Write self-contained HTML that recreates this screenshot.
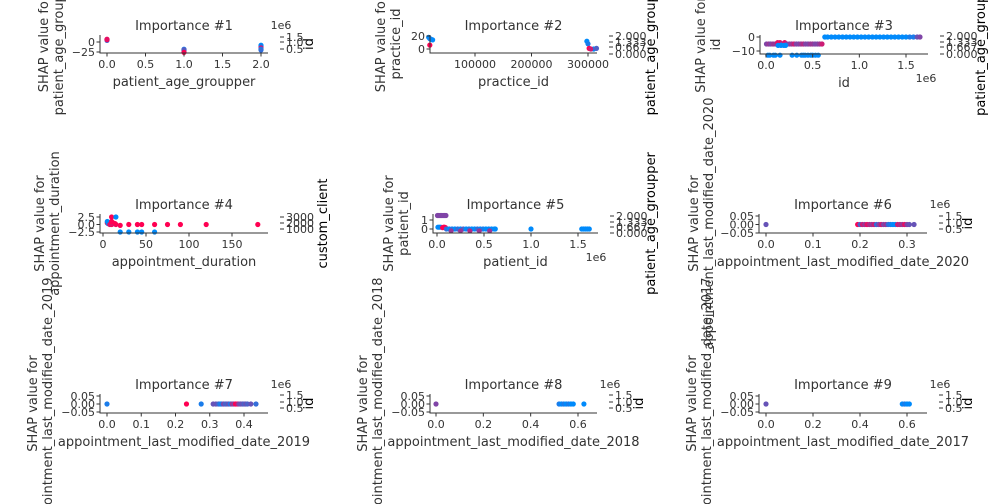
<!DOCTYPE html>
<html><head><meta charset="utf-8"><style>
html,body{margin:0;padding:0;background:#fff;width:1008px;height:504px;overflow:hidden;}
svg{display:block;font-family:"DejaVu Sans","Liberation Sans",sans-serif;}
</style></head><body>
<svg id="fig" width="1008" height="504" viewBox="0 0 1008 504"></svg>
<script>
// ---- data arrays ----
const p1X=[0,0,0,1,1,1,1,2,2,2,2,2];
const p1Y=[4,6,7,-18,-20,-22,-26,-8,-12,-15,-18,-20];
const p1C=[0.2,1,0.9,0.1,0.4,0.3,1,0,0.1,0.9,0,0.2];
const p2X=[18000,20000,22000,25000,20000,298000,300000,302000,310000,315000,305000];
const p2Y=[18,16,15,14,6,12,8,1,0,1,0];
const p2C=[0,0,0.1,0,1,0,0.1,1,0,0.3,0.8];
const p3X=[5000,30000,50000,75000,100000,125000,150000,175000,200000,225000,250000,275000,300000,325000,350000,375000,400000,425000,450000,475000,500000,525000,550000,575000,600000,130000,160000,190000,210000,20000,40000,80000,100000,150000,280000,330000,380000,400000,420000,450000,480000,500000,530000,560000,
 630000,660000,700000,740000,780000,820000,860000,900000,940000,980000,1020000,1060000,1100000,1140000,1180000,1220000,1260000,1300000,1340000,1380000,1420000,1460000,1500000,1540000,1580000,1620000,1650000];
const p3Y=[-5,-5,-5,-5,-5,-4,-4,-5,-4,-5,-5,-5,-5,-5,-5,-5,-5,-5,-5,-5,-5,-5,-5,-5,-5,-6,-6,-6,-6,-13,-13,-13,-13,-13,-13,-13,-13,-13,-13,-13,-13,-13,-13,-13,
 0,0,0,0,0,0,0,0,0,0,0,0,0,0,0,0,0,0,0,0,0,0,0,0,0,0,0];
const p3C=[0.5,0.6,0.5,0.6,0.6,0.9,0.9,0.5,0.9,0.6,0.5,0.6,0.8,0.5,0.5,0.6,0.7,0.5,0.5,0.6,0.6,0.5,0.5,0.6,0.8,0,0,0,0,0,0,0,0,0,0,0,0,0,0,0,0,0,0,0,
 0,0,0,0,0,0,0,0,0,0,0,0,0,0,0,0,0,0,0,0,0,0,0,0.1,0.1,0.4,0.5];
const p4X=[5,6,7,8,9,10,11,12,13,14,15,5,8,10,14,20,20,30,30,40,40,45,45,60,60,75,90,120,180,10,15];
const p4Y=[0.5,0.3,0.6,0.5,0.2,0,0.4,0.5,0.3,0.2,0,1,0,1,0.3,-0.3,-2.5,0,-2.5,0,-2.5,0,-2.5,0,-2.5,0,0,0,0,2.5,2.5];
const p4C=[1,0.1,1,0,1,1,0.9,1,1,0,0.9,0,0.9,1,1,1,0,1,0,1,0,1,0,1,0,1,1,1,1,1,0];
const p5X=[5000,20000,35000,50000,65000,80000,95000,10000,25000,40000,60000,70000,80000,90000,100000,130000,160000,190000,220000,250000,280000,310000,340000,370000,400000,430000,460000,490000,520000,550000,580000,610000,620000,150000,250000,350000,450000,560000,1000000,1540000,1560000,1580000,1600000,1620000];
const p5Y=[1.5,1.5,1.5,1.5,1.5,1.5,1.5,0.2,0.2,0.2,0.15,0.2,0.2,0.15,0,0,0,0,0,0,0,0,0,0,0,0,0,0,0,0,0,0,0,-0.2,-0.2,-0.2,-0.2,-0.2,0,0,0,0,0,0];
const p5C=[0.5,0.5,0.5,0.5,0.5,0.5,0.5,0,0,0,1,1,1,1,0.2,0,0.1,0,0.2,0,0.3,0,0.1,0,0,0.2,0,0.1,0,0,0,0,0,0.6,0.6,0.7,0.6,0.6,0,0,0,0,0,0];
const p6X=[0,0.195,0.2,0.205,0.21,0.215,0.22,0.225,0.23,0.235,0.24,0.245,0.25,0.255,0.26,0.265,0.27,0.275,0.28,0.285,0.29,0.295,0.3,0.305,0.315];
const p6Y=[0,0,0,0,0,0,0,0,0,0,0,0,0,0,0,0,0,0,0,0,0,0,0,0,0];
const p6C=[0.4,1,0.3,0.8,0.6,0.9,0.7,0.6,0.8,0.2,0.5,0.8,0.5,0.6,0.2,0.1,0,0,0.8,0.7,0.6,0.9,0.5,0.4,0.4];
const p7X=[0,0.232,0.275,0.31,0.318,0.325,0.33,0.335,0.34,0.345,0.35,0.355,0.36,0.365,0.37,0.375,0.38,0.385,0.39,0.395,0.4,0.405,0.41,0.42,0.435];
const p7Y=[0,0,0,0,0,0,0,0,0,0,0,0,0,0,0,0,0,0,0,0,0,0,0,0,0];
const p7C=[0.1,1,0.1,0.4,0.4,0.3,0.1,0.1,0.5,0.3,0.3,0.4,0.1,0.6,0.5,1,0.9,0.5,0.4,0.4,0.3,0.4,0.3,0.4,0.2];
const p8X=[0,0.52,0.53,0.54,0.55,0.56,0.57,0.58,0.625];
const p8Y=[0,0,0,0,0,0,0,0,0];
const p8C=[0.5,0.1,0,0.1,0,0.1,0,0,0];
const p9X=[0,0.58,0.59,0.6,0.61];
const p9Y=[0,0,0,0,0];
const p9C=[0.4,0,0.1,0,0];

// ---- layout ----
const panels=[
 {n:1,X:p1X,Y:p1Y,C:p1C,L:100,R:268,T:35,B:53,ya_off:56,xa:[0,107,2,261],ya:[0,42,-25,52],xt:[[0,"0.0"],[0.5,"0.5"],[1,"1.0"],[1.5,"1.5"],[2,"2.0"]],yt:[[0,"0"],[-25,"−25"]],xl:"patient_age_groupper",yl:"patient_age_groupper",cb:[["1.5",37],["1.0",42],["0.5",49]],e6:true,cl:"id",clx:313},
 {n:2,X:p2X,Y:p2Y,C:p2C,L:430,R:597,T:35,B:53,ya_off:49,xa:[100000,475,300000,588],ya:[20,36,0,49],xt:[[100000,"100000"],[200000,"200000"],[300000,"300000"]],yt:[[20,"20"],[0,"0"]],xl:"practice_id",yl:"practice_id",cb:[["2.000",36],["1.333",42],["0.667",47],["0.000",54]],e6:false,cl:"patient_age_groupper",clx:655},
 {n:3,X:p3X,Y:p3Y,C:p3C,L:760,R:928,T:35,B:54,ya_off:59,xa:[0,766,1500000,906],ya:[0,37,-10,51],xt:[[0,"0.0"],[500000,"0.5"],[1000000,"1.0"],[1500000,"1.5"]],yt:[[0,"0"],[-10,"−10"]],xl:"id",yl:"id",cb:[["2.000",36],["1.333",42],["0.667",47],["0.000",54]],e6x:true,e6:false,cl:"patient_age_groupper",clx:985},
 {n:4,X:p4X,Y:p4Y,C:p4C,L:100,R:268,T:214,B:233,ya_off:60,xa:[0,103,150,232],ya:[2.5,217,-2.5,232],xt:[[0,"0"],[50,"50"],[100,"100"],[150,"150"]],yt:[[2.5,"2.5"],[0,"0.0"],[-2.5,"−2.5"]],xl:"appointment_duration",yl:"appointment_duration",cb:[["3000",217],["2000",223],["1000",229]],e6:false,cl:"custom_client",clx:327},
 {n:5,X:p5X,Y:p5Y,C:p5C,L:433,R:598,T:214,B:233,ya_off:44,xa:[0,437,1500000,578],ya:[1,220,0,229],xt:[[0,"0.0"],[500000,"0.5"],[1000000,"1.0"],[1500000,"1.5"]],yt:[[1,"1"],[0,"0"]],xl:"patient_id",yl:"patient_id",cb:[["2.000",216],["1.333",222],["0.667",227],["0.000",233]],e6x:true,e6:false,cl:"patient_age_groupper",clx:655},
 {n:6,X:p6X,Y:p6Y,C:p6C,L:759,R:927,T:214,B:233,ya_off:65,xa:[0,766,0.3,907],ya:[0.05,216,-0.05,233],xt:[[0,"0.0"],[0.1,"0.1"],[0.2,"0.2"],[0.3,"0.3"]],yt:[[0.05,"0.05"],[0,"0.00"],[-0.05,"−0.05"]],xl:"appointment_last_modified_date_2020",yl:"appointment_last_modified_date_2020",cb:[["1.5",216],["1.0",223],["0.5",229]],e6:true,cl:"id",clx:972},
 {n:7,X:p7X,Y:p7Y,C:p7C,L:100,R:268,T:394,B:413,ya_off:67,xa:[0,107,0.4,244],ya:[0.05,396,-0.05,412],xt:[[0,"0.0"],[0.1,"0.1"],[0.2,"0.2"],[0.3,"0.3"],[0.4,"0.4"]],yt:[[0.05,"0.05"],[0,"0.00"],[-0.05,"−0.05"]],xl:"appointment_last_modified_date_2019",yl:"appointment_last_modified_date_2019",cb:[["1.5",395],["1.0",402],["0.5",408]],e6:true,cl:"id",clx:313},
 {n:8,X:p8X,Y:p8Y,C:p8C,L:430,R:597,T:394,B:413,ya_off:67,xa:[0,436,0.6,578],ya:[0.05,396,-0.05,412],xt:[[0,"0.0"],[0.2,"0.2"],[0.4,"0.4"],[0.6,"0.6"]],yt:[[0.05,"0.05"],[0,"0.00"],[-0.05,"−0.05"]],xl:"appointment_last_modified_date_2018",yl:"appointment_last_modified_date_2018",cb:[["1.5",395],["1.0",402],["0.5",408]],e6:true,cl:"id",clx:643},
 {n:9,X:p9X,Y:p9Y,C:p9C,L:759,R:927,T:394,B:413,ya_off:67,xa:[0,766,0.6,907],ya:[0.05,396,-0.05,412],xt:[[0,"0.0"],[0.2,"0.2"],[0.4,"0.4"],[0.6,"0.6"]],yt:[[0.05,"0.05"],[0,"0.00"],[-0.05,"−0.05"]],xl:"appointment_last_modified_date_2017",yl:"appointment_last_modified_date_2017",cb:[["1.5",395],["1.0",402],["0.5",408]],e6:true,cl:"id",clx:972}
];
const NS="http://www.w3.org/2000/svg";
const svg=document.getElementById('fig');
function mk(tag,attrs,parent,txt){const e=document.createElementNS(NS,tag);for(const k in attrs)e.setAttribute(k,attrs[k]);if(txt!==undefined)e.textContent=txt;(parent||svg).appendChild(e);return e;}
function lin(a){return v=>a[1]+(v-a[0])*(a[3]-a[1])/(a[2]-a[0]);}
function col(c){const b=[0,138,251],r=[255,0,82];return 'rgb('+b.map((v,i)=>Math.round(v+(r[i]-v)*c)).join(',')+')';}
const TC="#333";
panels.forEach(p=>{
 const g=mk('g',{});
 
 
 const sx=lin(p.xa),sy=lin(p.ya);
 const cx=(p.L+p.R)/2,cy=(p.T+p.B)/2;
 const t=mk('text',{x:cx,y:p.T-5,'text-anchor':'middle','font-size':13,fill:TC},g,'Importance #'+p.n);
 
 
 for(let i=0;i<p.X.length;i++){
  const d=mk('circle',{cx:sx(p.X[i]),cy:sy(p.Y[i]),r:2.6,fill:col(p.C[i])},g);
  
  
 }
 const ax=mk('path',{d:`M${p.L} ${p.T}V${p.B}H${p.R}`,stroke:TC,'stroke-width':1,fill:'none'},g);
 
 
 p.xt.forEach(([v,l])=>{const x=sx(v);mk('line',{x1:x,x2:x,y1:p.B,y2:p.B+3.5,stroke:TC},g);
  const tl=mk('text',{x:x,y:p.B+15,'text-anchor':'middle','font-size':11,fill:TC},g,l);
  
  });
 p.yt.forEach(([v,l])=>{const y=sy(v);mk('line',{x1:p.L-3.5,x2:p.L,y1:y,y2:y,stroke:TC},g);
  const tl=mk('text',{x:p.L-5,y:y+4,'text-anchor':'end','font-size':11,fill:TC},g,l);
  
  });
 const xl=mk('text',{x:cx,y:p.B+33,'text-anchor':'middle','font-size':13,fill:TC},g,p.xl);
 
 
 if(p.e6x){const e=mk('text',{x:p.R-2,y:p.B+28,'text-anchor':'middle','font-size':11,fill:TC},g,'1e6');
  
  }
 const yl=mk('text',{x:0,y:0,'text-anchor':'middle','font-size':13,fill:TC,transform:`translate(${p.L-p.ya_off+4},${cy}) rotate(-90)`},g);
 
 
 mk('tspan',{x:0,dy:0},yl,'SHAP value for');
 mk('tspan',{x:0,dy:15},yl,p.yl);
 const cbx=p.R+12;
 p.cb.forEach(([l,y])=>{mk('line',{x1:cbx,x2:cbx+4,y1:y,y2:y,stroke:TC},g);
  const tl=mk('text',{x:cbx+6,y:y+4,'font-size':11,fill:TC},g,l);
  
  });
 if(p.e6){const e=mk('text',{x:cbx+1,y:p.T-6,'text-anchor':'middle','font-size':11,fill:TC},g,'1e6');
  
  }
 const cl=mk('text',{x:0,y:0,'text-anchor':'middle','font-size':13,fill:'#000',transform:`translate(${p.clx},${cy}) rotate(-90)`},g,p.cl);
 
 
});
</script>
</body></html>
